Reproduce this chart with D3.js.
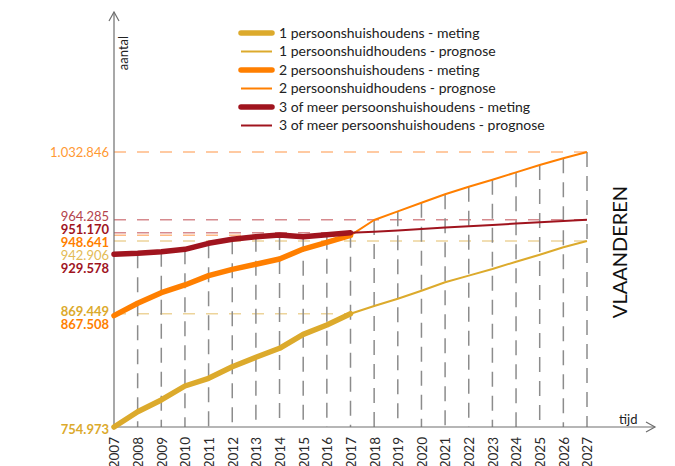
<!DOCTYPE html>
<html>
<head>
<meta charset="utf-8">
<script src="https://cdn.jsdelivr.net/npm/d3@7/dist/d3.min.js"></script>
<style>
  html, body { margin: 0; padding: 0; background: #fff; }
  svg { display: block; font-family: Lato, "Open Sans", sans-serif; }
</style>
</head>
<body>
<svg id="chart" width="675" height="466"></svg>
<script>
// Huishoudens in Vlaanderen naar grootte: meting 2007-2017, prognose 2017-2027
const years = [2007, 2008, 2009, 2010, 2011, 2012, 2013, 2014, 2015, 2016, 2017,
               2018, 2019, 2020, 2021, 2022, 2023, 2024, 2025, 2026, 2027];
const metingYears   = [2007, 2008, 2009, 2010, 2011, 2012, 2013, 2014, 2015, 2016, 2017];
const prognoseYears = [2017, 2018, 2019, 2020, 2021, 2022, 2023, 2024, 2025, 2026, 2027];

const meting1   = [754973, 770400, 782300, 796400, 804200, 815900, 825400, 834500, 848600, 858000, 869449];
const prognose1 = [869449, 877200, 884600, 892700, 901200, 907900, 914600, 922000, 929100, 936600, 942906];
const meting2   = [867508, 880000, 890700, 898500, 907900, 914300, 919400, 924700, 934800, 941600, 948641];
const prognose2 = [948641, 964100, 972900, 981600, 990100, 997800, 1004800, 1012300, 1019700, 1026500, 1032846];
const meting3   = [929578, 930500, 932100, 934500, 940600, 944600, 947300, 949000, 947300, 949300, 951170];
const prognose3 = [951170, 952300, 953600, 955000, 956500, 957900, 959200, 960500, 961800, 963100, 964285];

const legendLabels = [
  "1 persoonshuishoudens - meting",
  "1 persoonshuidhoudens - prognose",
  "2 persoonshuishoudens - meting",
  "2 persoonshuidhoudens - prognose",
  "3 of meer persoonshuishoudens - meting",
  "3 of meer persoonshuishoudens - prognose"
];
const regionName = "VLAANDEREN";
const xTitle = "tijd";
const yTitle = "aantal";

// ---- layout & style ----
const colors = { 1: "#dcaa2c", 2: "#ff7f00", 3: "#a0141e" };
const lightColors = { 1: "#edd49a", 2: "#ffb984", 3: "#d68a8e" };

const svg = d3.select("#chart");
const x0 = 114, xEnd = 587, yBase = 427;

const x = d3.scaleLinear().domain([2007, 2027]).range([x0, xEnd]);
const y = d3.scaleLinear().domain([754973, 1032846]).range([yBase, 152]);

const series = [
  { grp: 1, kind: "meting",   yrs: metingYears,   vals: meting1 },
  { grp: 1, kind: "prognose", yrs: prognoseYears, vals: prognose1 },
  { grp: 2, kind: "meting",   yrs: metingYears,   vals: meting2 },
  { grp: 2, kind: "prognose", yrs: prognoseYears, vals: prognose2 },
  { grp: 3, kind: "meting",   yrs: metingYears,   vals: meting3 },
  { grp: 3, kind: "prognose", yrs: prognoseYears, vals: prognose3 }
];

// Start and end values that get a reference label on the vertical axis
const marked = [];
series.forEach(s => {
  const last = s.vals.length - 1;
  if (s.kind === "meting") marked.push({ grp: s.grp, year: s.yrs[0], v: s.vals[0], bold: true });
  marked.push({ grp: s.grp, year: s.yrs[last], v: s.vals[last], bold: s.kind === "meting" });
});

// horizontal dashed guides from the axis to each marked point
svg.append("g").selectAll("line")
  .data(marked.filter(d => d.year > 2007))
  .join("line")
  .attr("x1", x0).attr("x2", d => x(d.year))
  .attr("y1", d => y(d.v)).attr("y2", d => y(d.v))
  .attr("stroke", d => lightColors[d.grp])
  .attr("stroke-width", 1.5)
  .attr("stroke-dasharray", "12,11");

// vertical dashed guides from the time axis up to the highest value of each year
const allByYear = new Map();
series.forEach(s => s.yrs.forEach((yr, i) => {
  allByYear.set(yr, Math.max(allByYear.get(yr) || 0, s.vals[i]));
}));
svg.append("g").selectAll("line")
  .data(years.filter(yr => yr > 2007))
  .join("line")
  .attr("x1", d => x(d)).attr("x2", d => x(d))
  .attr("y1", d => y(allByYear.get(d))).attr("y2", yBase)
  .attr("stroke", "#8c8c8c")
  .attr("stroke-width", 1.5)
  .attr("stroke-dasharray", "15,9");

// axes with arrow heads
const axisColor = "#6e6e6e";
const axes = svg.append("g").attr("stroke", axisColor).attr("stroke-width", 1.2).attr("fill", "none");
axes.append("line").attr("x1", x0).attr("x2", x0).attr("y1", yBase).attr("y2", 12);
axes.append("path").attr("d", `M${x0 - 5},21 L${x0},12 L${x0 + 5},21`);
axes.append("line").attr("x1", x0).attr("x2", 655).attr("y1", yBase).attr("y2", yBase);
axes.append("path").attr("d", `M646,422 L655,427 L646,432`);

const xAxis = d3.axisBottom(x).tickValues(years).tickSize(0).tickFormat(d3.format("d"));
const gx = svg.append("g").attr("transform", `translate(0,${yBase})`).call(xAxis);
gx.select(".domain").remove();
gx.selectAll("text")
  .attr("transform", "rotate(-90)")
  .attr("x", -10).attr("y", 0).attr("dy", "0.36em")
  .attr("text-anchor", "end")
  .attr("fill", "#2a2a2a")
  .style("font-size", "13.5px")
  .style("font-family", "Lato, sans-serif");

svg.append("text")
  .attr("x", 619).attr("y", 424)
  .attr("fill", "#222").style("font-size", "13px")
  .text(xTitle);

svg.append("text")
  .attr("transform", "translate(128,53) rotate(-90)")
  .attr("text-anchor", "middle")
  .attr("fill", "#222").style("font-size", "13px")
  .text(yTitle);

// series lines
const line = d3.line().x(d => x(d[0])).y(d => y(d[1]));
svg.append("g").selectAll("path")
  .data(series)
  .join("path")
  .attr("d", s => line(s.yrs.map((yr, i) => [yr, s.vals[i]])))
  .attr("fill", "none")
  .attr("stroke", s => colors[s.grp])
  .attr("stroke-width", s => s.kind === "meting" ? 5.5 : 2)
  .attr("stroke-linejoin", "round")
  .attr("stroke-linecap", s => s.kind === "meting" ? "round" : "butt");

// value labels on the vertical axis, nudged apart where they crowd
const fmt = v => d3.format(",")(v).replace(/,/g, ".");
const labels = marked.map(d => ({ ...d, pos: y(d.v) })).sort((a, b) => a.pos - b.pos);
const gap = 13;
const clusters = [];
labels.forEach(l => {
  const c = clusters[clusters.length - 1];
  if (c && l.pos - c[c.length - 1].pos <= gap + 0.5) c.push(l); else clusters.push([l]);
});
clusters.forEach(c => {
  let prev = -Infinity;
  c.forEach(l => { l.ly = Math.max(l.pos, prev + gap); prev = l.ly; });
  const overflow = c[c.length - 1].ly - c[c.length - 1].pos;
  c.forEach(l => { l.ly -= overflow * 0.2; });
});
svg.append("g").selectAll("text")
  .data(labels)
  .join("text")
  .attr("x", 109)
  .attr("y", d => d.ly + (d.year === 2007 && d.grp === 1 ? 2 : 0))
  .attr("dy", "0.36em")
  .attr("text-anchor", "end")
  .attr("fill", d => d.bold ? colors[d.grp] : d3.interpolateRgb(colors[d.grp], "#fff")(0.2))
  .style("font-size", "13px")
  .style("font-weight", d => d.bold ? "bold" : "normal")
  .text(d => fmt(d.v));

// legend
const legend = svg.append("g");
const rowY = i => 33 + i * 18.5;
legend.selectAll("line")
  .data(series)
  .join("line")
  .attr("x1", 241).attr("x2", 272)
  .attr("y1", (d, i) => rowY(i)).attr("y2", (d, i) => rowY(i))
  .attr("stroke", d => colors[d.grp])
  .attr("stroke-width", d => d.kind === "meting" ? 5.5 : 2)
  .attr("stroke-linecap", d => d.kind === "meting" ? "round" : "butt");
legend.selectAll("text")
  .data(legendLabels)
  .join("text")
  .attr("x", 279).attr("y", (d, i) => rowY(i)).attr("dy", "0.35em")
  .attr("fill", "#222").style("font-size", "14px")
  .text(d => d);

// region name
svg.append("text")
  .attr("transform", "translate(620,252) rotate(-90)")
  .attr("text-anchor", "middle").attr("dy", "0.35em")
  .attr("fill", "#111").style("font-size", "20px")
  .text(regionName);
</script>
</body>
</html>
